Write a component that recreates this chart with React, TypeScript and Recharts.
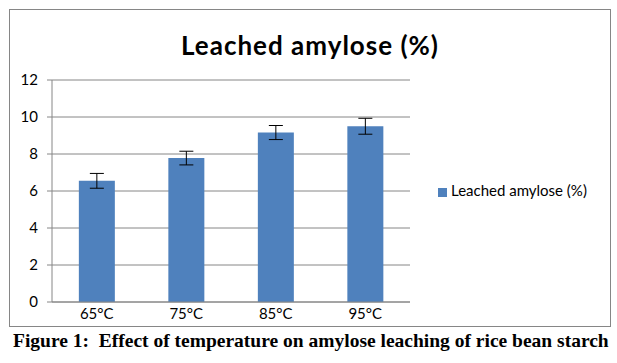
import React from 'react';
import { BarChart, Bar, XAxis, YAxis, CartesianGrid, Legend, ErrorBar } from 'recharts';

const temperatures = ['65°C', '75°C', '85°C', '95°C'];
const leachedAmylose = [6.55, 7.78, 9.16, 9.5];
const errors = [0.4, 0.37, 0.38, 0.43];
const yTicks = [0, 2, 4, 6, 8, 10, 12];

const data = temperatures.map((t, i) => ({ temp: t, value: leachedAmylose[i], err: errors[i] }));

const font = 'Lato, "Liberation Sans", sans-serif';

export default function App() {
  return (
    <div style={{ position: 'absolute', left: 0, top: 0, width: 617, height: 363, background: 'white' }}>
      <div style={{ position: 'absolute', left: 9, top: 9, width: 600, height: 316, border: '1px solid #868686' }}>
        <div style={{ position: 'absolute', left: 0, top: 19, width: 600, textAlign: 'center', fontFamily: font, fontWeight: 'bold', fontSize: 26, letterSpacing: 1, color: '#000' }}>
          Leached amylose (%)
        </div>
        {/* legend reserves its 172px on the right, so margin.right is the remainder */}
        <BarChart width={600} height={316} data={data} margin={{ top: 70, right: 28, bottom: 0, left: 0 }} barCategoryGap="30%">
          <CartesianGrid vertical={false} stroke="#868686" />
          <XAxis dataKey="temp" axisLine={{ stroke: '#868686' }} tickLine={false} height={24}
            tick={{ fill: '#000', fontSize: 15, fontFamily: font }} tickMargin={0} />
          <YAxis domain={[0, 12]} ticks={yTicks} width={42} axisLine={{ stroke: '#868686' }} tickLine={{ stroke: '#868686' }}
            tickSize={5} tickMargin={9} tick={{ fill: '#000', fontSize: 15, fontFamily: font }} interval={0} />
          <Legend layout="vertical" verticalAlign="middle" align="right" width={172}
            wrapperStyle={{ left: 428, top: 171, width: 172, fontFamily: font, fontSize: 15 }}
            iconType="square" iconSize={9}
            formatter={(v: string) => <span style={{ color: '#000' }}>{v}</span>} />
          <Bar dataKey="value" name="Leached amylose (%)" fill="#4F81BD" isAnimationActive={false}>
            <ErrorBar dataKey="err" width={7} stroke="#000" strokeWidth={1} />
          </Bar>
        </BarChart>
      </div>
      <div style={{ position: 'absolute', left: 13, top: 330, fontFamily: '"Liberation Serif", "Times New Roman", serif', fontWeight: 'bold', fontSize: 19.5, color: '#000', whiteSpace: 'nowrap' }}>
        Figure 1:&nbsp; Effect of temperature on amylose leaching of rice bean starch
      </div>
    </div>
  );
}
